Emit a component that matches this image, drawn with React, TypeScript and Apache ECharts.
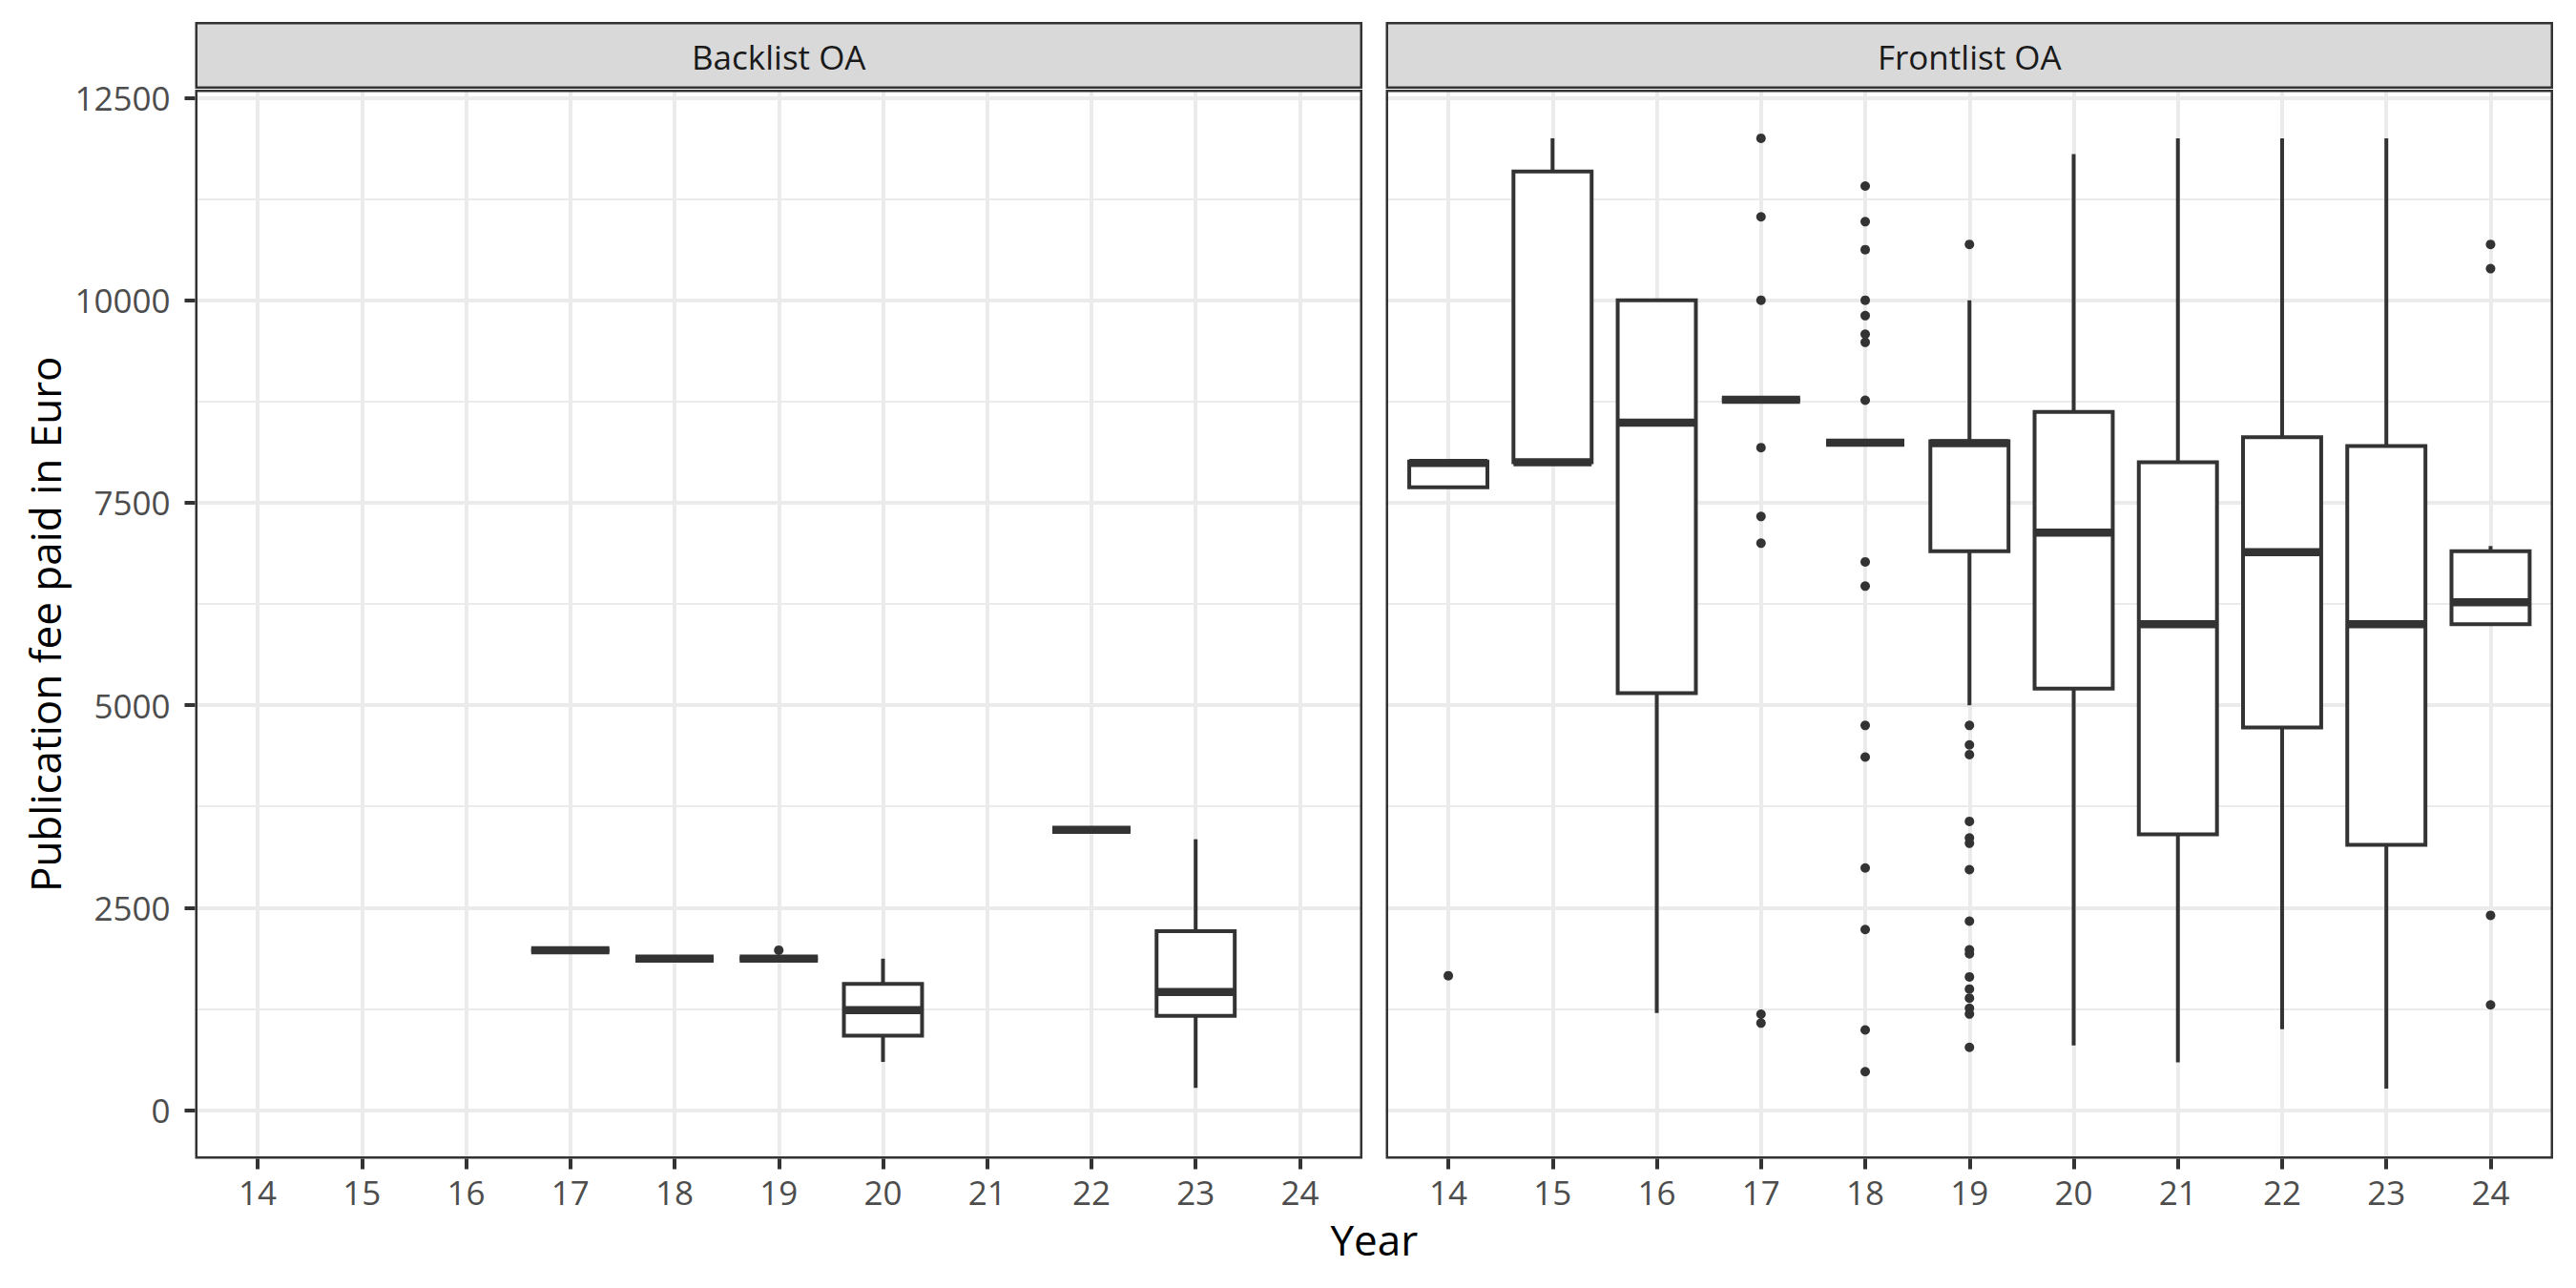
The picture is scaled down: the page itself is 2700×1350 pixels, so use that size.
import React, { useEffect, useRef } from "react";
import * as echarts from "echarts";

// ---------- data ----------
const years = ["14", "15", "16", "17", "18", "19", "20", "21", "22", "23", "24"];
const yTicks = [0, 2500, 5000, 7500, 10000, 12500];

// [year, min, Q1, median, Q3, max]
const backlistBoxes: (string | number)[][] = [
  ["17", 1975, 1975, 1975, 1975, 1975],
  ["18", 1870, 1870, 1870, 1870, 1870],
  ["19", 1870, 1870, 1870, 1870, 1870],
  ["20", 595, 920, 1235, 1560, 1870],
  ["22", 3460, 3460, 3460, 3460, 3460],
  ["23", 275, 1165, 1460, 2210, 3345],
];
const backlistOutliers: (string | number)[][] = [["19", 1975]];

const frontlistBoxes: (string | number)[][] = [
  ["14", 7690, 7690, 7990, 8010, 8010],
  ["15", 8000, 8000, 8000, 11590, 12000],
  ["16", 1200, 5150, 8490, 10000, 10000],
  ["17", 8770, 8770, 8770, 8770, 8770],
  ["18", 8240, 8240, 8240, 8240, 8240],
  ["19", 5000, 6900, 8235, 8260, 10000],
  ["20", 800, 5205, 7130, 8620, 11805],
  ["21", 590, 3405, 6000, 8000, 12000],
  ["22", 1000, 4725, 6890, 8310, 12000],
  ["23", 265, 3275, 6000, 8200, 12000],
  ["24", 6000, 6000, 6270, 6900, 6965],
];
const out14 = [1660];
const out17 = [12000, 11030, 10000, 8180, 7330, 7000, 1185, 1075];
const out18 = [11410, 10970, 10625, 10000, 9810, 9580, 9480, 8765, 6770, 6470, 4750, 4360, 2990, 2230, 990, 475];
const out19 = [10690, 4750, 4510, 4390, 3565, 3360, 3295, 2970, 2333, 1980, 1930, 1645, 1495, 1383, 1258, 1187, 775];
const out24 = [10690, 10390, 2405, 1300];
const frontlistOutliers: (string | number)[][] = [
  ...out14.map((v) => ["14", v]),
  ...out17.map((v) => ["17", v]),
  ...out18.map((v) => ["18", v]),
  ...out19.map((v) => ["19", v]),
  ...out24.map((v) => ["24", v]),
];

const panelTitles = ["Backlist OA", "Frontlist OA"];

// ---------- styling ----------
const FONT = "Open Sans";
const DARK = "#333333";
const GRID = "#EBEBEB";

// layout (px)
const panelLeft = [204.5, 1452.5];
const panelW = 1223.5;
const panelTop = 94;
const panelH = 1120.5;
const stripTop = 23;
const stripBottom = 93;
const Y_MIN = -600;
const Y_MAX = 12600;
const expandUnits = 0.6;

function renderBox(params: any, api: any) {
  const x = api.value(0);
  const vmin = api.coord([x, api.value(1)]);
  const q1 = api.coord([x, api.value(2)]);
  const med = api.coord([x, api.value(3)]);
  const q3 = api.coord([x, api.value(4)]);
  const vmax = api.coord([x, api.value(5)]);
  const bw = api.size([1, 0])[0] * 0.75;
  const cx = q1[0];
  const st = { stroke: DARK, lineWidth: 4, fill: null };
  const children: any[] = [];
  children.push({ type: "line", shape: { x1: cx, y1: q3[1], x2: cx, y2: vmax[1] }, style: st });
  children.push({ type: "line", shape: { x1: cx, y1: q1[1], x2: cx, y2: vmin[1] }, style: st });
  const h = q1[1] - q3[1];
  if (h > 0.5) {
    children.push({
      type: "rect",
      shape: { x: cx - bw / 2, y: q3[1], width: bw, height: h },
      style: { fill: "#ffffff", stroke: DARK, lineWidth: 4 },
    });
  } else {
    children.push({
      type: "line",
      shape: { x1: cx - bw / 2, y1: q3[1], x2: cx + bw / 2, y2: q3[1] },
      style: { stroke: DARK, lineWidth: 4 },
    });
  }
  children.push({
    type: "line",
    shape: { x1: cx - bw / 2, y1: med[1], x2: cx + bw / 2, y2: med[1] },
    style: { stroke: DARK, lineWidth: 8.5, lineCap: "butt" },
  });
  return { type: "group", children };
}

export default function App() {
  const ref = useRef<HTMLDivElement>(null);

  useEffect(() => {
    if (!ref.current) return;
    const chart = echarts.init(ref.current, undefined, { renderer: "svg" });

    const unit = panelW / (years.length - 1 + 2 * expandUnits);
    const innerOff = expandUnits * unit;
    const innerW = (years.length - 1) * unit;
    const pxPerUnit = panelH / (Y_MAX - Y_MIN);
    const yTop = panelTop + (Y_MAX - yTicks[yTicks.length - 1]) * pxPerUnit;
    const yBot = panelTop + (Y_MAX - yTicks[0]) * pxPerUnit;

    const grids: any[] = [];
    const xAxes: any[] = [];
    const yAxes: any[] = [];
    const series: any[] = [];
    const graphics: any[] = [];

    [0, 1].forEach((p) => {
      // data grid
      grids.push({ left: panelLeft[p] + innerOff, top: panelTop, width: innerW, height: panelH });
      xAxes.push({
        gridIndex: p,
        type: "category",
        data: years,
        boundaryGap: false,
        position: "bottom",
        axisLine: { show: false, onZero: false },
        axisTick: { show: true, length: 11, alignWithLabel: true, lineStyle: { color: DARK, width: 4 } },
        axisLabel: { show: true, interval: 0, margin: 17, fontSize: 35, color: "#4D4D4D", fontFamily: FONT },
        splitLine: { show: true, interval: 0, lineStyle: { color: GRID, width: 4 } },
      });
      yAxes.push({ gridIndex: p, type: "value", min: Y_MIN, max: Y_MAX, show: false });
    });
    [0, 1].forEach((p) => {
      // tick / horizontal-grid grid
      grids.push({ left: panelLeft[p], top: yTop, width: panelW, height: yBot - yTop });
      xAxes.push({ gridIndex: 2 + p, type: "value", min: 0, max: 1, show: false });
      yAxes.push({
        gridIndex: 2 + p,
        type: "value",
        min: yTicks[0],
        max: yTicks[yTicks.length - 1],
        interval: yTicks[1] - yTicks[0],
        axisLine: { show: false, onZero: false },
        axisTick: { show: p === 0, length: 11, lineStyle: { color: DARK, width: 4 } },
        axisLabel: {
          show: p === 0,
          margin: 26,
          fontSize: 35,
          color: "#4D4D4D",
          fontFamily: FONT,
          formatter: (v: number) => String(v),
        },
        splitLine: { show: true, lineStyle: { color: GRID, width: 4 } },
        minorTick: { show: false, splitNumber: 2 },
        minorSplitLine: { show: true, lineStyle: { color: GRID, width: 2 } },
      });
    });

    const boxSets = [backlistBoxes, frontlistBoxes];
    const outSets = [backlistOutliers, frontlistOutliers];
    [0, 1].forEach((p) => {
      series.push({
        type: "custom",
        xAxisIndex: p,
        yAxisIndex: p,
        renderItem: renderBox,
        data: boxSets[p],
        encode: { x: 0, y: [1, 2, 3, 4, 5] },
        z: 3,
      });
      series.push({
        type: "scatter",
        xAxisIndex: p,
        yAxisIndex: p,
        data: outSets[p],
        symbol: "circle",
        symbolSize: 10,
        itemStyle: { color: DARK, opacity: 1 },
        z: 4,
      });

      const lw = 2.5;
      graphics.push({
        type: "rect",
        z: 100,
        shape: { x: panelLeft[p] + lw / 2, y: panelTop + lw / 2, width: panelW - lw, height: panelH - lw },
        style: { fill: "transparent", stroke: DARK, lineWidth: lw },
      });
      graphics.push({
        type: "rect",
        z: 100,
        shape: { x: panelLeft[p] + lw / 2, y: stripTop + lw / 2, width: panelW - lw, height: stripBottom - stripTop - lw },
        style: { fill: "#D9D9D9", stroke: DARK, lineWidth: lw },
      });
      graphics.push({
        type: "text",
        z: 101,
        x: panelLeft[p] + panelW / 2,
        y: (stripTop + stripBottom) / 2 + 1,
        style: {
          text: panelTitles[p],
          fontSize: 35,
          fontFamily: FONT,
          fill: "#1A1A1A",
          textAlign: "center",
          textVerticalAlign: "middle",
        },
      });
    });

    graphics.push({
      type: "text",
      z: 101,
      x: (panelLeft[0] + panelLeft[1] + panelW) / 2,
      y: 1299,
      style: {
        text: "Year",
        fontSize: 44,
        fontFamily: FONT,
        fill: "#000000",
        textAlign: "center",
        textVerticalAlign: "middle",
      },
    });
    graphics.push({
      type: "text",
      z: 101,
      x: 47,
      y: panelTop + panelH / 2,
      rotation: Math.PI / 2,
      style: {
        text: "Publication fee paid in Euro",
        fontSize: 44,
        fontFamily: FONT,
        fill: "#000000",
        textAlign: "center",
        textVerticalAlign: "middle",
      },
    });

    chart.setOption({
      animation: false,
      backgroundColor: "#ffffff",
      textStyle: { fontFamily: FONT },
      grid: grids,
      xAxis: xAxes,
      yAxis: yAxes,
      series,
      graphic: graphics,
    });

    return () => chart.dispose();
  }, []);

  return (
    <div
      ref={ref}
      style={{ position: "absolute", left: 0, top: 0, width: 2700, height: 1350, background: "#fff" }}
    />
  );
}
